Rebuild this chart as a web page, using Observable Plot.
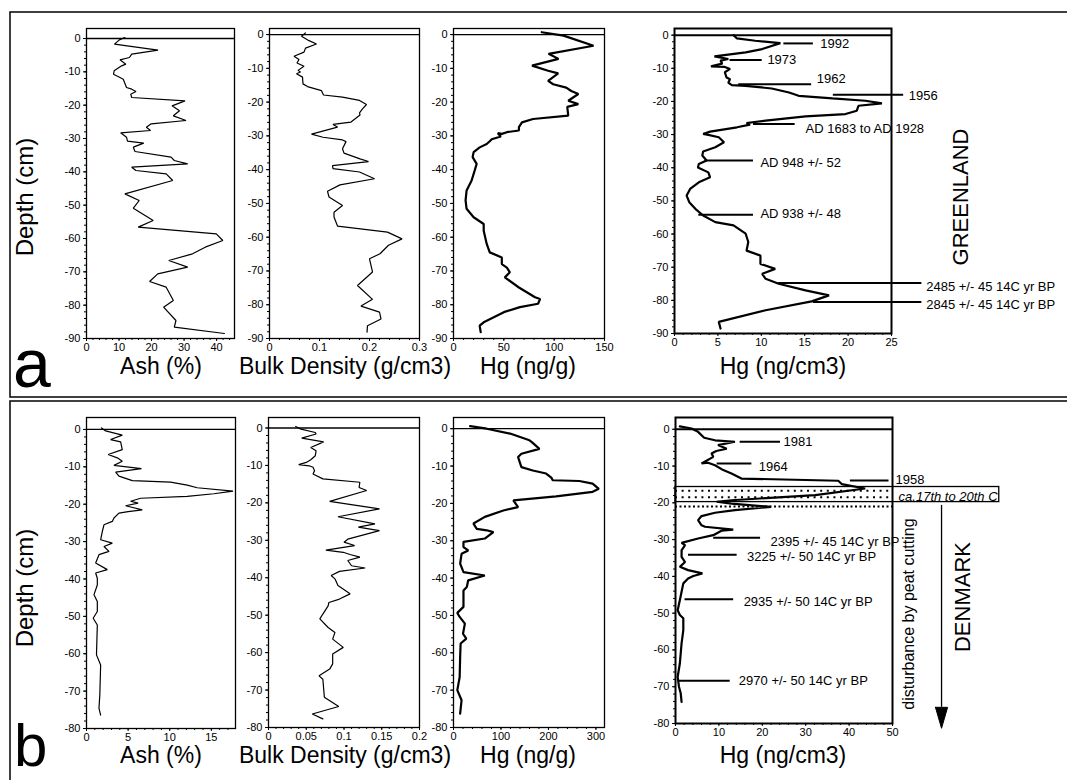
<!DOCTYPE html>
<html><head><meta charset="utf-8">
<script src="https://cdn.jsdelivr.net/npm/d3@7"></script>
<script src="https://cdn.jsdelivr.net/npm/@observablehq/plot@0.6"></script>
<style>
body{margin:0;background:#fff;}
#fig{position:relative;width:1067px;height:780px;overflow:hidden;font-family:'Liberation Sans',Arial,Helvetica,sans-serif;background:#fff;}
</style></head><body><div id="fig"></div><script>
// ---------- DATA: [value, depth (cm)] ----------
const greenlandAsh = [[11.8,0.3],[10.1,-0.4],[8.6,-1.7],[22.0,-3.5],[13.9,-4.7],[13.2,-5.7],[10.3,-6.4],[12.1,-7.7],[10.8,-8.2],[8.5,-9.7],[8.3,-10.7],[10.3,-11.7],[11.3,-12.2],[12.3,-14.7],[13.9,-15.2],[15.2,-15.9],[13.6,-16.7],[13.9,-17.7],[30.3,-18.7],[26.3,-20.2],[28.6,-21.7],[26.7,-23.2],[30.6,-24.6],[19.9,-25.6],[18.4,-26.6],[19.7,-27.6],[10.5,-28.3],[12.3,-29.6],[12.6,-30.8],[17.6,-31.4],[14.4,-32.6],[14.9,-33.9],[26.0,-35.6],[27.0,-36.6],[31.1,-37.6],[13.9,-38.6],[15.2,-39.6],[24.5,-40.6],[26.5,-42.6],[11.8,-46.6],[16.2,-48.6],[14.4,-50.9],[20.5,-54.6],[15.9,-56.6],[39.9,-58.6],[41.9,-60.6],[36.5,-62.6],[32.6,-64.6],[25.3,-66.6],[31.1,-68.6],[21.9,-70.6],[19.4,-72.9],[24.5,-74.6],[26.7,-78.6],[23.7,-80.6],[27.5,-84.6],[27.0,-86.6],[42.4,-88.5]];
const greenlandBD = [[0.072,0.5],[0.064,-0.5],[0.079,-1.8],[0.094,-2.8],[0.072,-4.0],[0.069,-5.2],[0.049,-6.4],[0.059,-7.4],[0.055,-8.4],[0.069,-9.4],[0.057,-10.6],[0.062,-11.1],[0.054,-11.6],[0.066,-12.6],[0.067,-14.6],[0.076,-15.4],[0.104,-16.6],[0.108,-17.9],[0.146,-18.5],[0.180,-19.5],[0.194,-20.7],[0.186,-22.0],[0.180,-23.2],[0.181,-23.8],[0.163,-25.9],[0.127,-26.6],[0.136,-27.4],[0.084,-29.5],[0.107,-30.4],[0.146,-31.2],[0.153,-31.7],[0.146,-33.8],[0.149,-35.1],[0.181,-36.8],[0.198,-37.6],[0.126,-38.8],[0.127,-39.7],[0.180,-40.7],[0.210,-42.7],[0.141,-44.5],[0.116,-46.4],[0.119,-48.1],[0.146,-50.6],[0.129,-52.6],[0.129,-54.0],[0.136,-56.7],[0.236,-58.5],[0.265,-60.5],[0.238,-62.4],[0.221,-64.9],[0.200,-66.4],[0.206,-70.3],[0.176,-74.3],[0.206,-78.4],[0.183,-80.4],[0.220,-82.2],[0.223,-84.2],[0.196,-86.2],[0.195,-88.1]];
const greenlandHg = [[87.7,0.7],[109.3,-0.3],[139.1,-3.3],[94.4,-5.7],[104.3,-7.2],[78,-9.2],[94,-10.7],[104,-11.5],[94,-13.7],[99,-14.7],[112,-15.7],[117,-16.7],[124,-17.6],[114,-19.6],[124,-20.6],[113,-21.4],[114,-24.0],[79,-25.0],[68,-26.0],[65,-27.4],[65,-28.4],[53,-28.9],[48,-29.4],[44,-29.2],[47,-30.2],[38,-31.0],[36,-31.6],[33,-32.4],[26,-33.4],[20,-34.8],[19,-36.3],[23,-38.3],[21,-40.3],[18,-43.2],[13,-46.2],[12,-49.1],[13,-51.6],[20,-54.1],[30,-56.1],[30,-58.1],[33,-62.0],[36,-64.5],[48,-66.0],[48,-68.0],[53,-69.0],[56,-70.4],[51,-71.9],[65,-74.9],[81,-77.8],[86,-78.3],[84,-79.7],[66,-80.7],[50,-82.2],[30,-85.2],[26,-86.2],[27,-88.1]];
const greenlandHgVol = [[6.8,0],[7.2,-1],[9.3,-1.7],[12.2,-2.4],[10.1,-4.2],[8.2,-5.2],[4.6,-6.4],[6.2,-7.2],[5.3,-7.7],[5.5,-8.6],[4.2,-9.4],[5.8,-9.6],[6.4,-10.2],[5.8,-11.2],[6.0,-12.8],[6.4,-13.3],[6.2,-14.3],[6.6,-15.1],[8.2,-15.3],[11.2,-16.1],[13.2,-17.3],[14.3,-18.3],[18.2,-19.1],[22.0,-19.8],[23.9,-20.6],[21.2,-21.3],[21.0,-22.8],[19.7,-23.8],[15.1,-24.5],[10.5,-25.8],[8.3,-26.5],[8.7,-27.0],[7.2,-27.8],[4.1,-29.1],[3.3,-29.8],[3.9,-30.1],[5.1,-30.8],[5.7,-32.3],[4.7,-33.8],[3.3,-35.1],[3.2,-36.3],[3.7,-37.8],[2.8,-38.9],[2.7,-39.9],[3.9,-41.4],[4.1,-42.9],[2.8,-44.4],[1.8,-46.4],[1.4,-48.4],[1.7,-50.4],[2.4,-52.4],[3.3,-54.4],[4.7,-56.4],[6.8,-57.4],[8.2,-59.9],[8.5,-62.4],[8.3,-65.0],[9.9,-66.5],[9.9,-69.0],[11.6,-70.5],[10.1,-72.0],[10.5,-73.5],[12.0,-75.0],[15.1,-77.0],[17.8,-78.5],[15.8,-80.3],[10.5,-83.0],[5.1,-86.5],[5.3,-88.5]];

const denmarkAsh = [[1.8,0.4],[2.3,-0.4],[4.3,-1.5],[2.9,-2.7],[4.1,-3.3],[4.3,-5.4],[2.6,-6.7],[3.7,-7.6],[4.3,-8.5],[3.3,-9.6],[6.6,-10.5],[3.5,-11.4],[3.9,-12.5],[5.5,-13.7],[10.1,-14.1],[12.1,-14.9],[13.3,-15.6],[17.6,-16.5],[15.3,-17.2],[12.1,-17.9],[6.5,-18.4],[5.3,-19.2],[6.2,-19.7],[4.7,-20.4],[6.7,-21.5],[5.0,-22.0],[3.9,-22.4],[3.3,-23.7],[3.1,-24.6],[2.1,-25.5],[1.9,-27.3],[1.7,-29.5],[3.1,-30.4],[2.1,-31.3],[2.7,-32.6],[1.5,-33.5],[1.1,-35.7],[2.5,-37.5],[1.1,-38.4],[1.3,-39.8],[1.3,-41.6],[0.9,-44.2],[1.3,-46.0],[1.3,-48.7],[0.8,-50.5],[1.3,-52.3],[1.2,-60.3],[1.7,-63.0],[1.6,-71.0],[1.5,-74.6],[1.7,-76.4]];
const denmarkBD = [[0.036,0.4],[0.043,-0.3],[0.062,-1.2],[0.063,-1.6],[0.044,-2.7],[0.073,-3.7],[0.056,-5.2],[0.063,-6.1],[0.062,-7.4],[0.056,-8.5],[0.050,-9.2],[0.040,-9.8],[0.054,-10.1],[0.059,-10.5],[0.061,-11.4],[0.059,-12.3],[0.072,-13.6],[0.121,-14.5],[0.120,-15.9],[0.130,-16.7],[0.081,-19.6],[0.147,-21.6],[0.092,-23.7],[0.141,-25.6],[0.119,-26.5],[0.147,-27.4],[0.105,-29.7],[0.100,-30.5],[0.114,-31.4],[0.076,-32.6],[0.099,-33.2],[0.108,-33.8],[0.121,-34.5],[0.105,-35.4],[0.110,-36.8],[0.128,-37.4],[0.094,-38.3],[0.083,-39.4],[0.088,-40.3],[0.092,-42.1],[0.108,-44.3],[0.094,-45.7],[0.080,-46.6],[0.079,-47.5],[0.072,-49.7],[0.068,-51.0],[0.079,-53.3],[0.088,-54.6],[0.085,-56.4],[0.099,-58.6],[0.085,-60.4],[0.085,-63.0],[0.081,-64.4],[0.067,-66.2],[0.072,-67.1],[0.074,-71.9],[0.093,-74.4],[0.058,-76.4],[0.072,-77.7]];
const denmarkHg = [[35,0.7],[70,0],[119,-1.3],[160,-3.1],[165,-3.6],[181,-5.4],[143,-6.7],[136,-7.6],[143,-10.3],[167,-11.2],[195,-12.0],[206,-13.1],[209,-13.8],[265,-14.0],[293,-14.7],[306,-16.1],[293,-16.9],[216,-18.1],[126,-19.2],[136,-21.0],[105,-21.9],[66,-23.6],[42,-25.4],[49,-26.8],[70,-27.2],[84,-27.7],[70,-29.0],[66,-29.4],[21,-30.3],[21,-31.7],[31,-32.6],[17,-33.5],[14,-36.1],[21,-38.4],[66,-39.3],[31,-40.6],[28,-42.4],[21,-43.3],[21,-47.7],[8,-49.3],[13,-50.4],[24,-52.2],[20,-54.9],[27,-56.2],[15,-57.5],[14,-61.1],[13,-66.5],[8,-70.0],[17,-72.7],[14,-76.3]];
const denmarkHgVol = [[1.0,0.8],[3.7,0.2],[5.2,-0.7],[6.6,-2.3],[9.1,-3.0],[13.7,-3.4],[9.8,-4.3],[11.8,-5.3],[9.4,-5.9],[8.3,-6.6],[8.7,-7.5],[6.0,-9.3],[7.5,-9.1],[9.1,-9.8],[11.0,-11.1],[12.9,-12.0],[15.2,-13.4],[37.5,-14.0],[38.3,-14.9],[43.7,-16.1],[32.2,-17.9],[12.9,-19.3],[9.5,-19.7],[12.9,-20.2],[22.0,-21.1],[13.7,-22.0],[9.1,-22.7],[6.0,-23.6],[5.2,-24.7],[6.0,-26.1],[6.8,-26.5],[13.3,-27.3],[10.6,-27.6],[8.7,-28.8],[5.2,-29.7],[1.4,-30.9],[2.2,-31.5],[1.4,-32.9],[1.4,-34.7],[2.2,-36.1],[1.0,-37.4],[2.9,-38.3],[6.2,-39.2],[4.1,-39.9],[2.9,-40.6],[1.8,-41.9],[1.4,-44.2],[1.0,-46.5],[0.5,-49.2],[1.0,-50.5],[1.8,-51.4],[1.8,-54.6],[1.4,-58.2],[1.0,-63.7],[0.5,-67.3],[0.8,-70.0],[1.2,-71.8],[1.4,-74.1]];

// dating annotations (Hg ng/cm3 panels)
const greenlandDates = ["1992","1973","1962","1956","AD 1683 to AD 1928","AD 948 +/- 52","AD 938 +/- 48","2485 +/- 45 14C yr BP","2845 +/- 45 14C yr BP"];
const greenlandDateDepth = [-2.5,-7.5,-14.8,-18.0,-26.8,-37.8,-54.2,-74.8,-80.5];
const greenlandDateFrom = [12.6,6.4,7.4,18.3,9.1,3.5,2.8,12.0,16.0];
const greenlandDateTo = [16.0,10.1,15.8,26.4,13.9,9.1,9.1,28.5,28.5];
const greenlandLabelX = [16.8,10.7,16.4,27.0,15.1,9.9,9.9,29.0,29.0];
const greenlandLabelDepth = [-2.5,-7.5,-13.2,-18.3,-28.3,-38.6,-54.0,-75.8,-81.5];

const denmarkDates = ["1981","1964","1958","2395 +/- 45 14C yr BP","3225 +/- 50 14C yr BP","2935 +/- 50 14C yr BP","2970 +/- 50 14C yr BP"];
const denmarkDateDepth = [-3.4,-9.3,-13.9,-29.5,-34.1,-46.2,-68.4];
const denmarkDateFrom = [14.9,9.6,40.3,8.8,3.0,2.2,0.7];
const denmarkDateTo = [24.2,17.6,49.2,19.6,14.2,13.4,12.6];
const denmarkLabelX = [24.9,19.2,50.7,21.9,16.5,15.7,14.6];
const denmarkLabelDepth = [-3.4,-10.2,-13.7,-30.6,-34.7,-46.9,-68.4];

const periodLabel = "ca.17th to 20th C";
const periodDepth = [-15.7, -19.8];      // box top / bottom
const periodBoxRight = 74.6;             // Hg units
const periodDotRows = [-16.7, -18.5];
const periodLowerLine = [-21.0];
const periodLabelPos = [51.4, -18.3];
const disturbanceX = 61.3, disturbanceFrom = -20.7, disturbanceTo = -81.3;

// tick values
const depthTicksA = d3.range(0, -91, -10), depthTicksB = d3.range(0, -81, -10);
const ashTicksA = [0,10,20,30,40], bdTicksA = [0,0.1,0.2,0.3], hgTicksA = [0,50,100,150], hgVolTicksA = [0,5,10,15,20,25];
const ashTicksB = [0,5,10,15], bdTicksB = [0,0.05,0.1,0.15,0.2], hgTicksB = [0,100,200,300], hgVolTicksB = [0,10,20,30,40,50];

// ---------- rendering ----------
const FONT = "'Liberation Sans', Arial, Helvetica, sans-serif";
const fig = document.getElementById("fig");
const fmt = d => String(d);
const hasAxisMarks = typeof Plot.axisY === "function";

function panel({frame, xDomain, yDomain, xTicks, yTicks, xMinor, yMinor, data, lw, fw, mR = 4, extra = []}) {
  const [fl, ft, fr, fb] = frame;
  const mL = 40, mT = 3, mB = 28;
  const marks = [
    Plot.frame({stroke: "black", strokeWidth: fw}),
    Plot.ruleY([0], {stroke: "black", strokeWidth: fw}),
    Plot.line(data, {x: d => d[0], y: d => d[1], stroke: "black", strokeWidth: lw, strokeLinejoin: "miter"}),
    ...extra
  ];
  const xOpt = {domain: xDomain}, yOpt = {domain: yDomain};
  if (hasAxisMarks) {
    marks.push(
      Plot.axisX(xTicks, {anchor: "bottom", tickSize: 3, tickPadding: 2, tickFormat: fmt, label: null}),
      Plot.axisX(xMinor, {anchor: "bottom", tickSize: 2, tickFormat: () => "", label: null}),
      Plot.axisY(yTicks, {anchor: "left", tickSize: 3, tickPadding: 3, tickFormat: fmt, label: null}),
      Plot.axisY(yMinor, {anchor: "left", tickSize: 2, tickFormat: () => "", label: null})
    );
  } else {
    Object.assign(xOpt, {ticks: xTicks, tickSize: 3, tickPadding: 2, tickFormat: fmt, label: null});
    Object.assign(yOpt, {ticks: yTicks, tickSize: 3, tickPadding: 3, tickFormat: fmt, label: null});
  }
  const svg = Plot.plot({
    width: fr - fl + mL + mR, height: fb - ft + mT + mB,
    marginLeft: mL, marginRight: mR, marginTop: mT, marginBottom: mB,
    x: xOpt, y: yOpt, marks,
    style: {background: "transparent", overflow: "visible", fontSize: "11px", fontFamily: FONT, color: "black"}
  });
  svg.style.position = "absolute";
  svg.style.left = (fl - mL) + "px";
  svg.style.top = (ft - mT) + "px";
  svg.style.maxWidth = "none";
  fig.appendChild(svg);
}

// overlay (panel frames, titles)
const ov = d3.select(fig).append("svg").attr("width", 1067).attr("height", 780)
  .style("position", "absolute").style("left", 0).style("top", 0).style("font-family", FONT);
ov.append("rect").attr("x", 10).attr("y", 12).attr("width", 1070).attr("height", 385).attr("fill", "none").attr("stroke", "black").attr("stroke-width", 1.5);
ov.append("rect").attr("x", 10).attr("y", 401).attr("width", 1070).attr("height", 390).attr("fill", "none").attr("stroke", "black").attr("stroke-width", 1.5);
const T = (x, y, s, size, opts = {}) => {
  const t = ov.append("text").attr("x", x).attr("y", y).attr("font-size", size).attr("text-anchor", opts.anchor || "middle").text(s);
  if (opts.rotate) t.attr("transform", `rotate(-90 ${x} ${y})`);
  return t;
};
T(13, 387, "a", 68, {anchor: "start"});
T(14, 766, "b", 60, {anchor: "start"});
T(33, 197, "Depth (cm)", 24, {rotate: true});
T(33, 588, "Depth (cm)", 24, {rotate: true});
[["Ash (%)",161],["Bulk Density (g/cm3)",345],["Hg (ng/g)",528],["Hg (ng/cm3)",783]].forEach(([s, x]) => {
  T(x, 374, s, 23); T(x, 763, s, 23);
});
T(968, 197, "GREENLAND", 22, {rotate: true});
T(970, 597, "DENMARK", 22, {rotate: true});
T(914, 614, "disturbance by peat cutting", 16, {rotate: true});

const idx = a => a.map((_, i) => i);

// ----- Greenland row -----
panel({frame: [86, 28, 234, 338], xDomain: [0, 45.5], yDomain: [-90, 3], xTicks: ashTicksA, yTicks: depthTicksA,
  xMinor: d3.range(0, 46, 2), yMinor: d3.range(0, -91, -2), data: greenlandAsh, lw: 1.2, fw: 1.3});
panel({frame: [269, 28, 419, 338], xDomain: [0, 0.3], yDomain: [-90, 1.8], xTicks: bdTicksA, yTicks: depthTicksA,
  xMinor: d3.range(0, 0.301, 0.02), yMinor: d3.range(0, -91, -2), data: greenlandBD, lw: 1.2, fw: 1.3});
panel({frame: [453, 28, 604, 338], xDomain: [0, 150], yDomain: [-90, 1.8], xTicks: hgTicksA, yTicks: depthTicksA,
  xMinor: d3.range(0, 151, 10), yMinor: d3.range(0, -91, -2), data: greenlandHg, lw: 2.2, fw: 1.3});
const gi = idx(greenlandDates);
panel({frame: [674, 28, 891, 333], xDomain: [0, 25], yDomain: [-90, 2], xTicks: hgVolTicksA, yTicks: depthTicksA,
  xMinor: d3.range(0, 25.1, 1), yMinor: d3.range(0, -91, -2), data: greenlandHgVol, lw: 2.2, fw: 2, mR: 175,
  extra: [
    Plot.ruleY(gi, {y: i => greenlandDateDepth[i], x1: i => greenlandDateFrom[i], x2: i => greenlandDateTo[i], stroke: "black", strokeWidth: 2}),
    Plot.text(gi, {x: i => greenlandLabelX[i], y: i => greenlandLabelDepth[i], text: i => greenlandDates[i], textAnchor: "start", fontSize: 13, fill: "black"})
  ]});

// ----- Denmark row -----
panel({frame: [86, 417, 235, 728], xDomain: [0, 17.9], yDomain: [-80, 3.2], xTicks: ashTicksB, yTicks: depthTicksB,
  xMinor: d3.range(0, 18, 1), yMinor: d3.range(0, -81, -2), data: denmarkAsh, lw: 1.2, fw: 1.3});
panel({frame: [268, 417, 419, 727], xDomain: [0, 0.2], yDomain: [-80, 2.8], xTicks: bdTicksB, yTicks: depthTicksB,
  xMinor: d3.range(0, 0.201, 0.01), yMinor: d3.range(0, -81, -2), data: denmarkBD, lw: 1.2, fw: 1.3});
panel({frame: [453, 417, 604, 727], xDomain: [0, 318], yDomain: [-80, 3.0], xTicks: hgTicksB, yTicks: depthTicksB,
  xMinor: d3.range(0, 318, 20), yMinor: d3.range(0, -81, -2), data: denmarkHg, lw: 2.2, fw: 1.3});
const di = idx(denmarkDates);
const headLen = 5.7, headHalf = 1.4;
panel({frame: [675, 417, 892, 723], xDomain: [0, 50], yDomain: [-80, 3.2], xTicks: hgVolTicksB, yTicks: depthTicksB,
  xMinor: d3.range(0, 50.1, 2), yMinor: d3.range(0, -81, -2), data: denmarkHgVol, lw: 2.2, fw: 2, mR: 130,
  extra: [
    Plot.rect([periodLabel], {x1: 0, x2: periodBoxRight, y1: periodDepth[1], y2: periodDepth[0], fill: "none", stroke: "black", strokeWidth: 1.3}),
    Plot.ruleY(periodDotRows, {x1: 0, x2: 50, stroke: "black", strokeWidth: 2, strokeDasharray: "2 4.6"}),
    Plot.ruleY(periodLowerLine, {x1: 0, x2: 50, stroke: "black", strokeWidth: 2, strokeDasharray: "2 2.5"}),
    Plot.text([periodLabel], {x: periodLabelPos[0], y: periodLabelPos[1], text: d => d, textAnchor: "start", fontSize: 13, fontStyle: "italic", fill: "black"}),
    Plot.ruleY(di, {y: i => denmarkDateDepth[i], x1: i => denmarkDateFrom[i], x2: i => denmarkDateTo[i], stroke: "black", strokeWidth: 2}),
    Plot.text(di, {x: i => denmarkLabelX[i], y: i => denmarkLabelDepth[i], text: i => denmarkDates[i], textAnchor: "start", fontSize: 13, fill: "black"}),
    Plot.ruleX([disturbanceX], {y1: disturbanceFrom, y2: disturbanceTo + headLen, stroke: "black", strokeWidth: 1.3}),
    Plot.line([[disturbanceX - headHalf, disturbanceTo + headLen], [disturbanceX, disturbanceTo], [disturbanceX + headHalf, disturbanceTo + headLen], [disturbanceX - headHalf, disturbanceTo + headLen]],
      {x: d => d[0], y: d => d[1], fill: "black", stroke: "black", strokeWidth: 1})
  ]});
</script></body></html>
